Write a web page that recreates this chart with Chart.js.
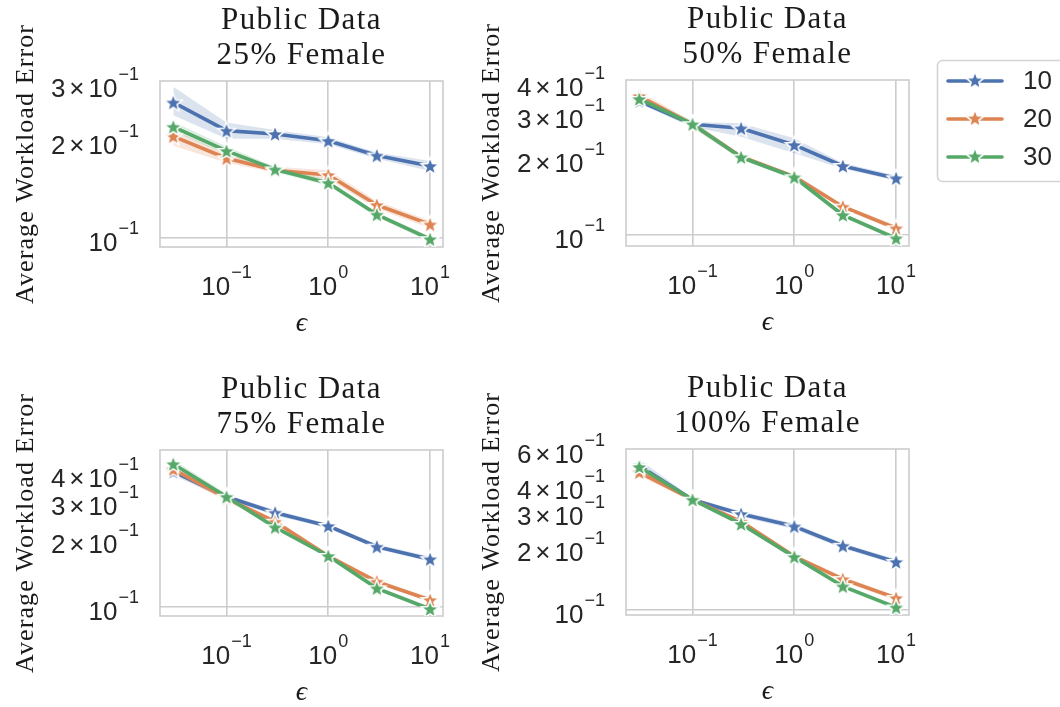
<!DOCTYPE html>
<html>
<head>
<meta charset="utf-8">
<script src="https://cdn.jsdelivr.net/npm/chart.js@4.4.1/dist/chart.umd.min.js"></script>
<style>
html, body { margin: 0; padding: 0; background: #fff; }
#wrap { position: relative; width: 1060px; height: 707px; overflow: hidden; }
#wrap canvas { position: absolute; left: 0; top: 0; }
</style>
</head>
<body>
<div id="wrap">
  <canvas id="c0" width="1060" height="707"></canvas>
  <canvas id="c1" width="1060" height="707"></canvas>
  <canvas id="c2" width="1060" height="707"></canvas>
  <canvas id="c3" width="1060" height="707"></canvas>
</div>
<script>
// x values (epsilon) and series names
const eps = [0.03, 0.1, 0.3, 1, 3, 10];
const seriesNames = ['10', '20', '30'];
const xTicks = [0.1, 1, 10];

// 25% Female
const f25_yTicks = [0.1, 0.2, 0.3];
const f25_s10 = [0.263, 0.215, 0.210, 0.200, 0.180, 0.167];
const f25_s10_lo = [0.240, 0.203, 0.203, 0.195, 0.176, 0.161];
const f25_s10_hi = [0.294, 0.228, 0.216, 0.205, 0.184, 0.173];
const f25_s20 = [0.2065, 0.1765, 0.162, 0.1566, 0.1264, 0.110];
const f25_s20_lo = [0.193, 0.171, 0.159, 0.152, 0.123, 0.107];
const f25_s20_hi = [0.216, 0.182, 0.166, 0.162, 0.130, 0.113];
const f25_s30 = [0.221, 0.186, 0.163, 0.148, 0.118, 0.099];
const f25_s30_lo = [0.214, 0.181, 0.160, 0.145, 0.116, 0.097];
const f25_s30_hi = [0.229, 0.192, 0.166, 0.151, 0.120, 0.101];

// 50% Female
const f50_yTicks = [0.1, 0.2, 0.3, 0.4];
const f50_s10 = [0.340, 0.275, 0.265, 0.2276, 0.1878, 0.1679];
const f50_s10_lo = [0.332, 0.268, 0.2455, 0.211, 0.183, 0.164];
const f50_s10_hi = [0.350, 0.281, 0.2775, 0.242, 0.193, 0.172];
const f50_s20 = [0.356, 0.275, 0.2045, 0.1704, 0.1295, 0.1063];
const f50_s20_lo = [0.345, 0.268, 0.200, 0.167, 0.127, 0.104];
const f50_s20_hi = [0.372, 0.282, 0.209, 0.174, 0.132, 0.109];
const f50_s30 = [0.3465, 0.275, 0.2034, 0.1694, 0.120, 0.097];
const f50_s30_lo = [0.337, 0.266, 0.199, 0.166, 0.118, 0.095];
const f50_s30_hi = [0.356, 0.284, 0.208, 0.173, 0.122, 0.099];

// 75% Female
const f75_yTicks = [0.1, 0.2, 0.3, 0.4];
const f75_s10 = [0.411, 0.316, 0.2675, 0.2327, 0.1874, 0.1644];
const f75_s10_lo = [0.395, 0.308, 0.260, 0.227, 0.183, 0.160];
const f75_s10_hi = [0.425, 0.324, 0.275, 0.238, 0.192, 0.169];
const f75_s20 = [0.421, 0.311, 0.2434, 0.170, 0.1299, 0.1072];
const f75_s20_lo = [0.405, 0.300, 0.237, 0.166, 0.127, 0.105];
const f75_s20_hi = [0.440, 0.320, 0.250, 0.174, 0.133, 0.110];
const f75_s30 = [0.445, 0.316, 0.2296, 0.170, 0.1212, 0.0976];
const f75_s30_lo = [0.430, 0.308, 0.224, 0.166, 0.118, 0.0955];
const f75_s30_hi = [0.465, 0.326, 0.235, 0.174, 0.124, 0.0995];

// 100% Female
const f100_yTicks = [0.1, 0.2, 0.3, 0.4, 0.6];
const f100_s10 = [0.504, 0.344, 0.293, 0.255, 0.205, 0.171];
const f100_s10_lo = [0.480, 0.336, 0.284, 0.247, 0.199, 0.166];
const f100_s10_hi = [0.540, 0.352, 0.302, 0.263, 0.211, 0.176];
const f100_s20 = [0.468, 0.344, 0.269, 0.182, 0.141, 0.114];
const f100_s20_lo = [0.450, 0.336, 0.262, 0.178, 0.137, 0.111];
const f100_s20_hi = [0.488, 0.352, 0.276, 0.186, 0.145, 0.117];
const f100_s30 = [0.497, 0.344, 0.262, 0.181, 0.130, 0.1026];
const f100_s30_lo = [0.480, 0.336, 0.255, 0.177, 0.127, 0.100];
const f100_s30_hi = [0.515, 0.352, 0.269, 0.185, 0.133, 0.105];

const colors = ['#4c72b0', '#dd8452', '#55a868'];
const bandColors = ['rgba(76,114,176,0.2)', 'rgba(221,132,82,0.2)', 'rgba(85,168,104,0.2)'];
const textColor = '#262626';
const sansFont = '"Liberation Sans", Arial, sans-serif';
const serifFont = '"Liberation Serif", "Times New Roman", serif';

const panels = [
  {id: 'c0', sub: '25% Female', box: [160, 81, 443, 247], y: [0.0936, 0.3066], yTicks: f25_yTicks,
   series: [[f25_s10, f25_s10_lo, f25_s10_hi], [f25_s20, f25_s20_lo, f25_s20_hi], [f25_s30, f25_s30_lo, f25_s30_hi]]},
  {id: 'c1', sub: '50% Female', box: [626, 80, 909, 246], y: [0.0904, 0.412], yTicks: f50_yTicks, legend: true,
   series: [[f50_s10, f50_s10_lo, f50_s10_hi], [f50_s20, f50_s20_lo, f50_s20_hi], [f50_s30, f50_s30_lo, f50_s30_hi]]},
  {id: 'c2', sub: '75% Female', box: [160, 450, 443, 616], y: [0.0907, 0.5156], yTicks: f75_yTicks,
   series: [[f75_s10, f75_s10_lo, f75_s10_hi], [f75_s20, f75_s20_lo, f75_s20_hi], [f75_s30, f75_s30_lo, f75_s30_hi]]},
  {id: 'c3', sub: '100% Female', box: [626, 449, 909, 615], y: [0.0942, 0.608], yTicks: f100_yTicks,
   series: [[f100_s10, f100_s10_lo, f100_s10_hi], [f100_s20, f100_s20_lo, f100_s20_hi], [f100_s30, f100_s30_lo, f100_s30_hi]]}
];

// filled five point star with white edge, used as the marker
function makeStar(color) {
    var c = document.createElement('canvas');
    c.width = 26; c.height = 26;
    var g = c.getContext('2d');
    var R = 9.4, r = R * 0.43;
    g.beginPath();
    for (let i = 0; i < 10; i++) {
        var rad = (i % 2 == 0) ? R : r;
        var ang = -Math.PI / 2 + i * Math.PI / 5;
        var px = 13 + rad * Math.cos(ang), py = 13.8 + rad * Math.sin(ang);
        if (i == 0) g.moveTo(px, py); else g.lineTo(px, py);
    }
    g.closePath();
    g.fillStyle = color;
    g.fill();
    g.strokeStyle = '#ffffff';
    g.lineWidth = 1.5;
    g.stroke();
    return c;
}
const stars = colors.map(makeStar);

function pts(vals) {
    return eps.map((x, i) => ({x: x, y: vals[i]}));
}

// draws "10^e" or "m x 10^e" like matplotlib mathtext; y is the baseline
function powLabel(ctx, v, x, y, align) {
    var e = Math.floor(Math.log10(v) + 1e-9);
    var m = Math.round(v / Math.pow(10, e));
    var sup = (e < 0 ? '\u2212' : '') + Math.abs(e);
    var mainFont = '26px ' + sansFont, supFont = '18px ' + sansFont;
    ctx.font = mainFont;
    var pieces = m != 1 ? [[String(m), 0], ['\u00d7', 4], ['10', 4]] : [['10', 0]];
    var w = 0;
    pieces.forEach(p => { w += p[1] + ctx.measureText(p[0]).width; });
    ctx.font = supFont;
    var sw = ctx.measureText(sup).width + 1;
    var sx = align == 'right' ? x - w - sw : x - (w + sw) / 2;
    ctx.font = mainFont;
    ctx.textAlign = 'left';
    ctx.textBaseline = 'alphabetic';
    pieces.forEach(p => {
        sx += p[1];
        ctx.fillText(p[0], sx, y);
        sx += ctx.measureText(p[0]).width;
    });
    ctx.font = supFont;
    ctx.fillText(sup, sx + 1, y - 17);
}

const deco = {
    id: 'deco',
    beforeDatasetsDraw(chart) {
        var a = chart.chartArea, ctx = chart.ctx;
        ctx.save();
        ctx.strokeStyle = '#cccccc';
        ctx.lineWidth = 1.6;
        ctx.strokeRect(a.left, a.top, a.right - a.left, a.bottom - a.top);
        ctx.restore();
    },
    afterDraw(chart, args, opts) {
        var a = chart.chartArea, ctx = chart.ctx;
        var xs = chart.scales.x, ys = chart.scales.y;
        var cx = (a.left + a.right) / 2, cy = (a.top + a.bottom) / 2;
        ctx.save();

        // title, two lines
        ctx.fillStyle = '#1a1a1a';
        ctx.font = '31px ' + serifFont;
        ctx.letterSpacing = '1.4px';
        ctx.textAlign = 'center';
        ctx.textBaseline = 'alphabetic';
        ctx.fillText('Public Data', cx, a.top - 52);
        ctx.fillText(opts.sub, cx, a.top - 17);

        // y label
        ctx.font = '26px ' + serifFont;
        ctx.letterSpacing = '1.1px';
        ctx.save();
        ctx.translate(a.left - 127, cy);
        ctx.rotate(-Math.PI / 2);
        ctx.fillText('Average Workload Error', 0, 0);
        ctx.restore();

        // x label
        ctx.letterSpacing = '0px';
        ctx.font = 'italic 28px ' + serifFont;
        ctx.fillText('\u03f5', cx, a.bottom + 84);

        // tick labels
        ctx.fillStyle = textColor;
        opts.yTicks.forEach(v => powLabel(ctx, v, a.left - 21, ys.getPixelForValue(v) + 13, 'right'));
        xTicks.forEach(v => powLabel(ctx, v, xs.getPixelForValue(v), a.bottom + 48, 'center'));

        // legend box on the right
        if (opts.legend) {
            ctx.beginPath();
            ctx.roundRect(937.5, 60.5, 140, 121, 5);
            ctx.fillStyle = '#ffffff';
            ctx.fill();
            ctx.strokeStyle = '#d4d4d4';
            ctx.lineWidth = 1.6;
            ctx.stroke();
            var rows = [81, 119, 157];
            chart.data.datasets.filter(d => d.isMain).forEach((d, i) => {
                ctx.strokeStyle = d.borderColor;
                ctx.lineWidth = 3.6;
                ctx.lineCap = 'round';
                ctx.beginPath();
                ctx.moveTo(948, rows[i]);
                ctx.lineTo(1002, rows[i]);
                ctx.stroke();
                ctx.drawImage(d.pointStyle, 975 - 13, rows[i] - 13.8);
                ctx.fillStyle = textColor;
                ctx.font = '26px ' + sansFont;
                ctx.textAlign = 'left';
                ctx.textBaseline = 'middle';
                ctx.fillText(d.label, 1023, rows[i] + 1);
            });
        }
        ctx.restore();
    }
};

function gridColor(ctx) {
    var v = ctx.tick ? ctx.tick.value : 0;
    var l = Math.log10(v);
    return Math.abs(l - Math.round(l)) < 1e-6 ? '#cccccc' : 'rgba(0,0,0,0)';
}

function buildPanel(p) {
    var datasets = [];
    p.series.forEach((s, i) => {
        datasets.push({data: pts(s[2]), fill: '+1', backgroundColor: bandColors[i], borderColor: 'rgba(0,0,0,0)',
            borderWidth: 0, pointRadius: 0, order: 20 - i});
        datasets.push({data: pts(s[1]), fill: false, borderColor: 'rgba(0,0,0,0)',
            borderWidth: 0, pointRadius: 0, order: 20 - i});
    });
    p.series.forEach((s, i) => {
        datasets.push({label: seriesNames[i], isMain: true, data: pts(s[0]), fill: false,
            borderColor: colors[i], borderWidth: 3.6, borderJoinStyle: 'round', borderCapStyle: 'round',
            pointStyle: stars[i], pointRadius: 9, order: 3 - i});
    });
    var b = p.box;
    return new Chart(document.getElementById(p.id), {
        type: 'line',
        data: {datasets: datasets},
        options: {
            responsive: false,
            animation: false,
            events: [],
            layout: {padding: {left: b[0], top: b[1], right: 1060 - b[2], bottom: 707 - b[3]}},
            scales: {
                x: {
                    type: 'logarithmic', min: 0.0222, max: 13.4, bounds: 'data',
                    afterBuildTicks: ax => { ax.ticks = xTicks.map(v => ({value: v})); },
                    ticks: {display: false},
                    border: {display: false},
                    grid: {drawTicks: false, color: gridColor, lineWidth: 1.6}
                },
                y: {
                    type: 'logarithmic', min: p.y[0], max: p.y[1], bounds: 'data',
                    afterBuildTicks: ax => { ax.ticks = p.yTicks.map(v => ({value: v})); },
                    ticks: {display: false},
                    border: {display: false},
                    grid: {drawTicks: false, color: gridColor, lineWidth: 1.6}
                }
            },
            plugins: {
                legend: {display: false},
                tooltip: {enabled: false},
                deco: {sub: p.sub, yTicks: p.yTicks, legend: !!p.legend}
            }
        },
        plugins: [deco]
    });
}

panels.forEach(buildPanel);
</script>
</body>
</html>
